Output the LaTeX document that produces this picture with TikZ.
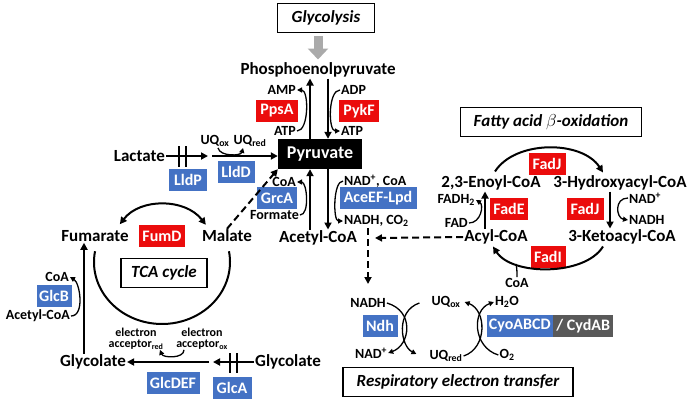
\documentclass[tikz,border=0pt]{standalone}
\usepackage{fontspec}
\setmainfont{Carlito}
\usetikzlibrary{arrows.meta,calc}
\definecolor{ered}{RGB}{235,12,12}
\definecolor{eblue}{RGB}{68,114,196}
\definecolor{egrey}{RGB}{89,89,89}
\definecolor{agrey}{RGB}{170,170,170}
\begin{document}
\begin{tikzpicture}[x=1pt,y=-1pt,
 met/.style={font=\fontsize{17}{18}\selectfont\bfseries, inner sep=1pt},
 sml/.style={font=\fontsize{14}{15}\selectfont\bfseries, inner sep=1pt},
 eacc/.style={font=\fontsize{12}{11}\selectfont\bfseries, inner sep=0pt, align=center},
 enz/.style={font=\fontsize{16}{17}\selectfont\bfseries, text=white, inner sep=0pt, minimum height=22pt},
 enzr/.style={enz, fill=ered},
 enzb/.style={enz, fill=eblue},
 ttl/.style={draw, line width=1.2pt, font=\fontsize{17}{18}\selectfont\bfseries\itshape, inner sep=0pt, minimum height=29pt},
 arr/.style={line width=2pt, -{Triangle[length=7pt,width=7pt]}},
 carr/.style={line width=1.3pt, -{Triangle[length=5pt,width=5pt]}},
 darr/.style={line width=2pt, dash pattern=on 7pt off 4pt, -{Triangle[length=7pt,width=7pt]}},
 bar/.style={line width=2pt},
]
\useasboundingbox (0,0) rectangle (700,410);

% ---------- glycolysis / pyruvate ----------
\node[ttl, minimum width=97pt] (glyc) at (326,18) {Glycolysis};
\node[met] (pep) at (318,70) {Phosphoenolpyruvate};
\draw[line width=9pt, agrey, -{Triangle[length=11pt,width=20pt]}, shorten >=2pt]
  ($(pep.north |- glyc.south)+(0,3)$) -- (pep.north);
\node[fill=black, text=white, font=\fontsize{18}{19}\selectfont\bfseries, minimum width=84pt, minimum height=30pt, inner sep=0pt] (pyr) at (320,154) {Pyruvate};
\draw[arr] ($(pyr.north)+(-10,0)$) -- ($(pyr.north |- pep.south)+(-10,0)$);
\draw[arr] ($(pyr.north |- pep.south)+(8,0)$) -- ($(pyr.north)+(8,0)$);

\node[sml, anchor=east] (amp) at (297,90) {AMP};
\node[sml, anchor=east] (atpa) at (297,131) {ATP};
\node[sml, anchor=west] (adp) at (340,90) {ADP};
\node[sml, anchor=west] (atpb) at (340,131) {ATP};
\node[enzr, minimum width=42pt] (ppsa) at (277,111) {PpsA};
\node[enzr, minimum width=40pt] (pykf) at (359,111) {PykF};
\draw[carr] (atpa.east) .. controls +(12,0) and +(12,0) .. (amp.east);
\draw[carr] (adp.west) .. controls +(-12,0) and +(-12,0) .. (atpb.west);

% ---------- lactate ----------
\node[met, anchor=east] (lac) at (166,156) {Lactate};
\coordinate (lp) at (208,156);
\coordinate (ld) at (212,156);
\draw[arr] (lac.east) -- (lp);
\draw[bar] (179,146) -- (179,167) (186,146) -- (186,167);
\draw[arr] (ld) -- (pyr.west |- ld);
\node[sml] (uqox) at (215,141) {UQ\textsubscript{ox}};
\node[sml] (uqred) at (250,141) {UQ\textsubscript{red}};
\draw[carr] ($(uqox.south)+(3,0)$) .. controls +(2,9) and +(-2,8) .. ($(uqred.south)+(-7,0)$);
\node[enzb, minimum width=38pt] (lldp) at (188,180) {LldP};
\node[enzb, minimum width=37pt] (lldd) at (236,172) {LldD};

% ---------- pyruvate -> acetyl-CoA ----------
\node[met] (acoa) at (318,238) {Acetyl-CoA};
\draw[arr] ($(pyr.south |- acoa.north)+(-10,0)$) -- ($(pyr.south)+(-10,0)$);
\draw[arr] ($(pyr.south)+(8,0)$) -- ($(pyr.south |- acoa.north)+(8,0)$);
\node[enzb, minimum width=40pt] (grca) at (277,198) {GrcA};
\node[sml, anchor=east] (coa1) at (297,182) {CoA};
\node[sml, anchor=east] (form) at (300,215) {Formate};
\draw[carr] (form.east) .. controls +(10,0) and +(10,0) .. (coa1.east);
\node[sml, anchor=west] (nadcoa) at (343,181) {NAD\textsuperscript{+}, CoA};
\node[enzb, minimum width=77pt] (ace) at (378,198) {AceEF-Lpd};
\node[sml, anchor=west] (nadhco) at (343,221) {NADH, CO\textsubscript{2}};
\draw[carr] (nadcoa.west) .. controls +(-10,0) and +(-10,0) .. (nadhco.west);

% ---------- TCA ----------
\node[met] (fum) at (95,236) {Fumarate};
\node[met] (mal) at (227,236) {Malate};
\node[enzr, minimum width=46pt] (fumd) at (162,236) {FumD};
\draw[line width=2pt, {Triangle[length=7pt,width=7pt]}-{Triangle[length=7pt,width=7pt]}]
  ($(fum.north east)+(-10,-5)$) .. controls (140,198) and (185,198) .. ($(mal.north west)+(5,-4)$);
\draw[line width=2pt] (162,262) ++(190:68 and 62) arc[start angle=190, end angle=-10, x radius=68, y radius=62];
\node[ttl, minimum width=86pt] (tca) at (164,273) {TCA cycle};
\draw[darr] (mal.north) -- (pyr.south west);

% ---------- glycolate ----------
\node[met] (glyl) at (93,362) {Glycolate};
\node[met] (glyr) at (288,362) {Glycolate};
\draw[arr] ($(glyl.north)+(-9,0)$) -- ($(glyl.north |- fum.south)+(-9,0)$);
\node[enzb, minimum width=35pt] (glcb) at (54,296) {GlcB};
\node[sml, anchor=east] (coa2) at (70,277) {CoA};
\node[sml, anchor=east] (acoa2) at (71,316) {Acetyl-CoA};
\draw[carr] (acoa2.east) .. controls +(14,0) and +(10,6) .. (coa2.east);
\coordinate (ga) at (213,362);
\coordinate (gd) at (209,362);
\draw[arr] (glyr.west) -- (ga);
\draw[bar] (230,353) -- (230,373) (237,353) -- (237,373);
\draw[arr] (gd) -- (glyl.east);
\node[eacc] (ered) at (136,339) {electron\\acceptor\textsubscript{red}};
\node[eacc] (eox) at (202,339) {electron\\acceptor\textsubscript{ox}};
\draw[carr] ($(eox.south)+(-18,0)$) .. controls +(0,9) and +(3,8) .. ($(ered.south)+(24,0)$);
\node[enzb, minimum width=53pt] (glcdef) at (173,383) {GlcDEF};
\node[enzb, minimum width=39pt] (glca) at (232,388) {GlcA};

% ---------- fatty acid beta-oxidation ----------
\node[ttl, minimum width=181pt] (fa) at (551,122) {Fatty acid $\beta$-oxidation};
\node[met] (enoyl) at (491,183) {2,3-Enoyl-CoA};
\node[met] (hydr) at (620,183) {3-Hydroxyacyl-CoA};
\node[met] (acyl) at (496,237) {Acyl-CoA};
\node[met] (keto) at (622,237) {3-Ketoacyl-CoA};
\node[enzr, minimum width=37pt] (fadj1) at (547,164) {FadJ};
\node[enzr, minimum width=38pt] (fade) at (509,209) {FadE};
\node[enzr, minimum width=37pt] (fadj2) at (585,209) {FadJ};
\node[enzr, minimum width=35pt] (fadi) at (548,257) {FadI};
\draw[arr] ($(enoyl.north)+(4,-3)$) .. controls (515,140) and (582,140) .. ($(hydr.north)+(-17,-2)$);
\draw[arr] ($(keto.south)+(-19,1)$) .. controls (585,276) and (512,276) .. ($(acyl.south)+(-3,1)$);
\draw[arr] ($(acyl.north)+(-11,0)$) -- ($(acyl.north |- enoyl.south)+(-11,0)$);
\draw[arr] ($(hydr.south)+(-10,0)$) -- ($(hydr.south |- keto.north)+(-10,0)$);
\node[sml, anchor=east] (fadh) at (476,200) {FADH\textsubscript{2}};
\node[sml, anchor=east] (fad) at (469,223) {FAD};
\draw[carr] (fad.east) .. controls +(12,0) and +(8,5) .. (fadh.east);
\node[sml, anchor=west] (nad2) at (628,198) {NAD\textsuperscript{+}};
\node[sml, anchor=west] (nadh2) at (628,220) {NADH};
\draw[carr] (nad2.west) .. controls +(-14,0) and +(-12,-2) .. (nadh2.west);
\node[sml] (coa3) at (517,283) {CoA};
\coordinate (coain) at (516,264);
\draw[line width=1.3pt] (coa3.north) .. controls +(0,-4) and +(1,4) .. (coain);
\coordinate (dj) at (375,238);
\draw[darr] (acyl.west) -- (dj);

% ---------- respiratory chain ----------
\coordinate (dtop) at (368,228);
\coordinate (dbot) at (368,284);
\draw[darr] (dtop) -- (dbot);
\node[sml] (nadhr) at (368,303) {NADH};
\node[enzb, minimum width=35pt] (ndh) at (380,326) {Ndh};
\node[sml] (nadr) at (371,353) {NAD\textsuperscript{+}};
\node[sml] (uqoxr) at (446,302) {UQ\textsubscript{ox}};
\node[sml] (uqredr) at (446,356) {UQ\textsubscript{red}};
\node[sml] (h2o) at (507,302) {H\textsubscript{2}O};
\node[sml] (o2) at (507,355) {O\textsubscript{2}};
\node[enz, fill=eblue, minimum width=66pt, anchor=east] (cyo) at (553,326) {CyoABCD};
\node[enz, fill=egrey, minimum width=60pt, anchor=west] (cyd) at (cyo.east) {/ CydAB};
\draw[carr] (nadhr.east) .. controls +(28,8) and +(22,-8) .. (nadr.east);
\draw[carr] ($(uqoxr.west)+(-11,1)$) .. controls +(-24,8) and +(-16,-8) .. ($(uqredr.west)+(-12,-2)$);
\draw[carr] (uqredr.east) .. controls +(24,-8) and +(22,8) .. ($(uqoxr.east)+(3,0)$);
\draw[carr] (o2.west) .. controls +(-26,-8) and +(-22,8) .. (h2o.west);
\node[ttl, minimum width=230pt] (resp) at (458,382) {Respiratory electron transfer};
\end{tikzpicture}
\end{document}
